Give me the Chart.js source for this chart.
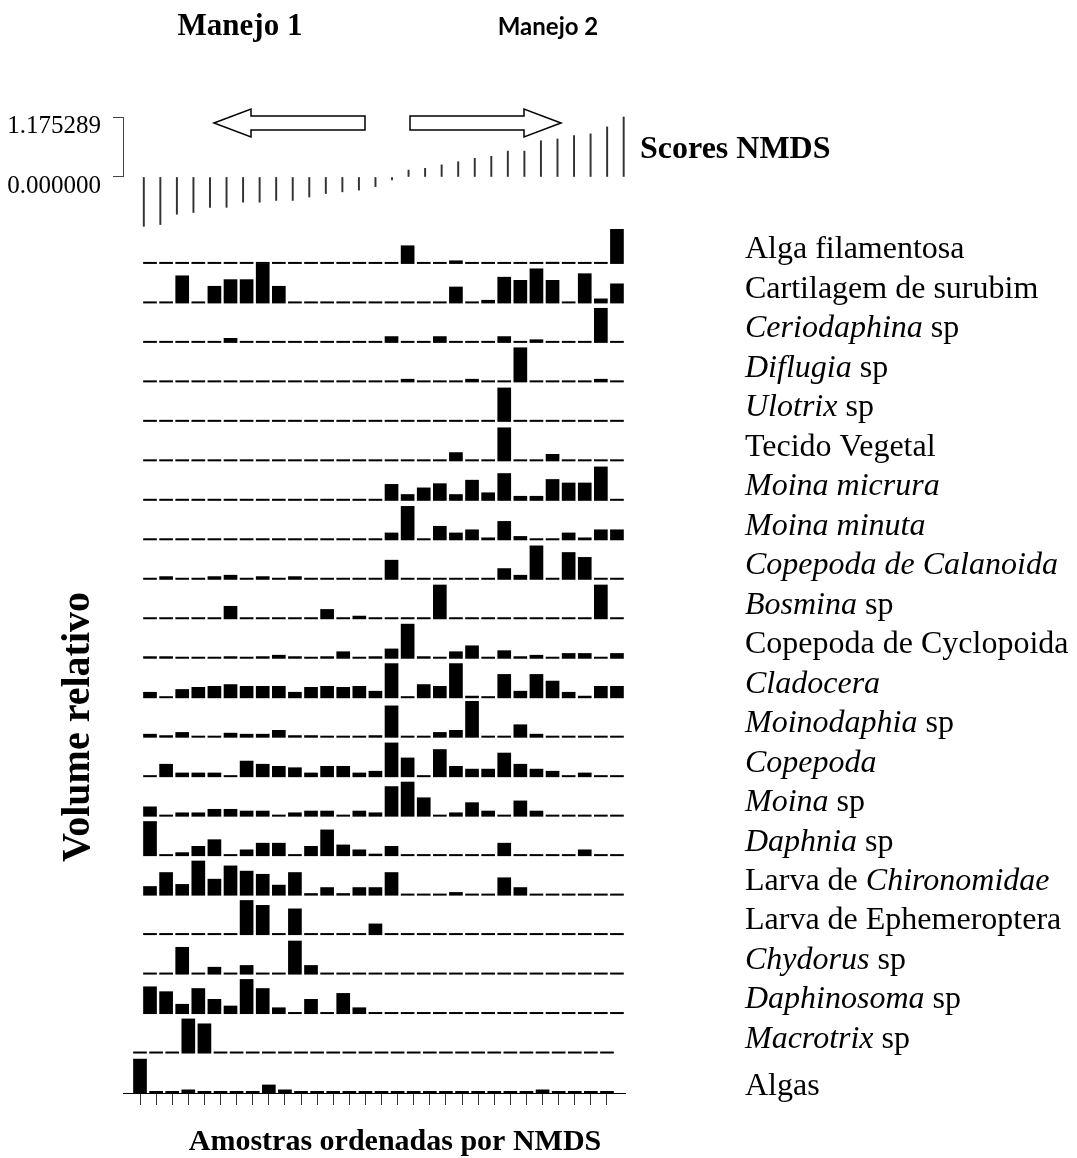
<!DOCTYPE html>
<html lang="pt">
<head>
  <meta charset="UTF-8">
  <title>Scores NMDS - volume relativo dos itens</title>
  <script src="https://cdn.jsdelivr.net/npm/chart.js"></script>
  <style>
    html, body { margin: 0; padding: 0; background: #fff; }
    #wrap { position: relative; width: 1077px; height: 1158px; }
  </style>
</head>
<body>
  <div id="wrap"><canvas id="nmdsChart"></canvas></div>

  <script>
    // Amostras ordenadas pelo escore NMDS
    const samples = [1, 2, 3, 4, 5, 6, 7, 8, 9, 10, 11, 12, 13, 14, 15,
                     16, 17, 18, 19, 20, 21, 22, 23, 24, 25, 26, 27, 28, 29, 30];

    const nmdsScores = [-0.967, -0.933, -0.730, -0.696, -0.595, -0.595, -0.494, -0.494, -0.460, -0.460,
                        -0.392, -0.325, -0.291, -0.257, -0.189, -0.060, 0.135, 0.169, 0.237, 0.298,
                        0.365, 0.406, 0.507, 0.507, 0.710, 0.744, 0.811, 0.845, 0.981, 1.175289];
    const nmdsTicks = [0, 1.175289];

    // Volume relativo de cada item (10 = maior valor da linha)
    const algaFilamentosa = [0, 0, 0, 0, 0, 0, 0, 0, 0, 0, 0, 0, 0, 0, 0, 0, 5.3, 0, 0, 1.0, 0, 0, 0, 0, 0, 0.6, 0, 0, 0, 10];
    const cartilagem      = [0, 0, 8.0, 0, 5.0, 6.9, 6.9, 11.4, 5.0, 0, 0, 0, 0, 0, 0, 0, 0, 0, 0, 4.8, 0, 1.0, 7.6, 6.7, 10, 6.7, 0, 8.6, 1.4, 5.7];
    const ceriodaphina    = [0.4, 0, 0, 0, 0, 1.4, 0, 0, 0, 0, 0, 0, 0, 0, 0, 1.9, 0, 0, 1.9, 0, 0, 0, 1.9, 0, 1.0, 0, 0, 0, 10, 0];
    const diflugia        = [0, 0, 0, 0, 0, 0, 0, 0, 0, 0, 0, 0, 0, 0, 0, 0, 1.0, 0, 0, 0, 1.0, 0, 0, 10, 0, 0, 0, 0, 1.0, 0.5];
    const ulotrix         = [0, 0, 0, 0, 0, 0, 0, 0, 0, 0, 0, 0, 0, 0, 0, 0, 0, 0, 0, 0, 0, 0, 9.8, 0, 0, 0, 0, 0, 0, 0];
    const tecidoVegetal   = [0, 0, 0, 0, 0, 0, 0, 0, 0, 0, 0, 0, 0, 0, 0, 0, 0, 0, 0, 2.6, 0, 0, 9.7, 0, 0, 2.1, 0, 0, 0, 0];
    const moinaMicrura    = [0, 0, 0, 0, 0, 0, 0.5, 0.5, 0.5, 0, 0, 0, 0.5, 0.5, 0, 4.8, 1.9, 3.8, 5.0, 1.9, 6.0, 2.4, 7.9, 1.4, 1.4, 6.2, 5.2, 5.2, 9.8, 0];
    const moinaMinuta     = [0, 0, 0, 0, 0, 0, 0, 0, 0, 0, 0, 0, 0, 0, 0, 2.2, 9.8, 0, 4.1, 2.2, 3.1, 0.8, 5.5, 1.2, 0, 0.3, 2.2, 0.8, 3.1, 3.1];
    const calanoida       = [0.3, 1.0, 0, 0, 1.0, 1.4, 0, 1.0, 0, 1.0, 0, 0.3, 0, 0.3, 0.3, 5.7, 0, 0, 0, 0, 0, 0, 3.3, 1.4, 9.8, 0, 7.9, 6.5, 0, 0];
    const bosmina         = [0, 0, 0.5, 0, 0, 3.8, 0.5, 0, 0, 0, 0, 2.9, 0, 1.0, 0, 0, 0, 0, 9.9, 0, 0, 0, 0, 0, 0, 0, 0, 0, 9.9, 0];
    const cyclopoida      = [0.7, 0.7, 0, 0, 0, 0.7, 0, 0.7, 1.1, 0.7, 0, 0.7, 2.1, 0, 0.7, 2.9, 10, 0.7, 0, 2.1, 3.8, 0, 2.4, 0.7, 1.1, 0, 1.6, 1.6, 0, 1.6];
    const cladocera       = [1.8, 0, 2.6, 3.2, 3.5, 4.0, 3.5, 3.5, 3.5, 1.8, 3.2, 3.5, 3.2, 3.5, 2.1, 10, 0, 4.0, 3.5, 10, 0.7, 0, 6.9, 2.1, 6.9, 5.0, 1.8, 0.7, 3.5, 3.5];
    const moinodaphia     = [1.1, 0.7, 1.6, 0, 0, 1.4, 1.1, 1.1, 2.2, 0.7, 0.7, 0, 0, 0, 0.7, 9.2, 0, 0, 1.6, 2.2, 10.5, 0, 0, 3.8, 1.1, 0, 0, 0, 0, 0];
    const copepoda        = [0, 3.8, 1.3, 1.3, 1.3, 0, 4.7, 3.8, 3.2, 2.8, 1.3, 3.2, 3.2, 1.3, 1.8, 9.9, 5.6, 0, 8.0, 3.2, 2.4, 2.4, 7.0, 3.8, 2.4, 1.8, 0.5, 1.3, 0, 0];
    const moinaSp         = [2.9, 0, 1.2, 1.2, 2.2, 2.2, 1.7, 1.7, 0, 1.2, 1.7, 1.7, 0, 1.7, 1.2, 8.7, 10, 5.5, 0, 1.2, 4.1, 1.7, 0, 4.6, 1.7, 0, 0, 0, 0, 0];
    const daphnia         = [10, 0, 1.1, 2.9, 4.8, 0, 1.9, 3.8, 3.8, 0, 2.9, 7.6, 3.3, 1.9, 0.7, 2.9, 0, 0, 0, 0, 0, 0, 3.8, 0, 0, 0, 0, 1.9, 0, 0];
    const chironomidae    = [2.7, 6.7, 3.3, 10, 4.8, 8.6, 7.1, 6.2, 3.1, 6.7, 0.7, 2.4, 0.7, 2.4, 2.4, 6.7, 0, 0, 0, 1.0, 0, 0, 5.2, 2.4, 0, 0, 0, 0, 0, 0];
    const ephemeroptera   = [0, 0, 0, 0, 0, 0, 10, 8.6, 0, 7.6, 0, 0, 0, 0, 3.3, 0, 0, 0, 0, 0, 0, 0, 0, 0, 0, 0, 0, 0, 0, 0];
    const chydorus        = [0, 0, 7.9, 0, 2.2, 0, 2.7, 0, 0, 9.7, 2.7, 0, 0, 0, 0, 0, 0, 0, 0, 0, 0, 0, 0, 0, 0, 0, 0, 0, 0, 0];
    const daphinosoma     = [7.9, 6.5, 2.9, 7.4, 4.3, 2.4, 10, 7.4, 1.9, 0, 4.3, 0.5, 6.0, 1.9, 0, 0, 0, 0, 0, 0, 0, 0, 0, 0, 0, 0, 0, 0, 0, 0];
    const macrotrix       = [0, 0, 0, 10, 8.6, 0, 0, 0, 0, 0, 0, 0, 0, 0, 0, 0, 0, 0, 0, 0, 0, 0, 0, 0, 0, 0, 0, 0, 0, 0];
    const algas           = [9.8, 0, 0, 1.0, 0, 0, 0, 0, 2.4, 1.0, 0, 0, 0, 0, 0, 0, 0, 0, 0, 0, 0, 0, 0, 0, 0, 1.0, 0, 0, 0, 0];

    // *texto* = itálico
    const rowNames = ['Alga filamentosa', 'Cartilagem de surubim', '*Ceriodaphina* sp', '*Diflugia* sp',
                      '*Ulotrix* sp', 'Tecido Vegetal', '*Moina micrura*', '*Moina minuta*',
                      '*Copepoda de Calanoida*', '*Bosmina* sp', 'Copepoda de Cyclopoida', '*Cladocera*',
                      '*Moinodaphia* sp', '*Copepoda*', '*Moina* sp', '*Daphnia* sp',
                      'Larva de *Chironomidae*', 'Larva de Ephemeroptera', '*Chydorus* sp', '*Daphinosoma* sp',
                      '*Macrotrix* sp', 'Algas'];
    const rowValues = [algaFilamentosa, cartilagem, ceriodaphina, diflugia, ulotrix, tecidoVegetal,
                       moinaMicrura, moinaMinuta, calanoida, bosmina, cyclopoida, cladocera,
                       moinodaphia, copepoda, moinaSp, daphnia, chironomidae, ephemeroptera,
                       chydorus, daphinosoma, macrotrix, algas];

    // the last two strips sit a bit further left in the original figure
    const shiftedRows = [20, 21];
    const ROW_MAX = 11.3;
    const serif = 'Liberation Serif, Times New Roman, serif';

    const datasets = [{
      data: samples.map((s, i) => ({ x: s, y: nmdsScores[i] })),
      xAxisID: 'xn', yAxisID: 'yn',
      backgroundColor: '#333', barThickness: 1.3, minBarLength: 0
    }];
    rowValues.forEach((vals, k) => {
      datasets.push({
        data: samples.map((s, i) => ({ x: s, y: vals[i] })),
        xAxisID: shiftedRows.includes(k) ? 'xs' : 'x',
        yAxisID: 'r' + k,
        backgroundColor: '#000',
        minBarLength: 2,
        barPercentage: 0.85,
        categoryPercentage: 1
      });
    });

    const hiddenX = (min, max) => ({
      type: 'linear', axis: 'x', position: 'bottom', display: false,
      offset: false, grid: { offset: false }, min, max
    });

    const scales = {
      x:  hiddenX(-0.677, 30.5),
      xn: hiddenX(-0.257, 30.08),
      xs: {
        type: 'linear', axis: 'x', position: 'bottom', offset: false, min: -0.056, max: 31.12,
        afterBuildTicks: s => { s.ticks = samples.map(v => ({ value: v })); },
        ticks: { display: false, autoSkip: false },
        grid: { offset: false, drawOnChartArea: false, drawTicks: true, tickLength: 12, color: '#333' },
        border: { display: true, color: '#000', width: 1 }
      },
      yn: {
        type: 'linear', axis: 'y', position: 'left', stack: 'rows', stackWeight: 60, weight: 40,
        min: 0, max: 1.175289,
        afterBuildTicks: s => { s.ticks = nmdsTicks.map(v => ({ value: v })); },
        afterFit: s => { s.width = 123; },
        ticks: {
          autoSkip: false,
          callback: v => Number(v).toFixed(6),
          font: { family: serif, size: 25 }, color: '#000', padding: 12, labelOffset: 9
        },
        grid: { drawOnChartArea: false, tickLength: 10, color: '#444' },
        border: { display: true, color: '#444', width: 1 }
      },
      gap: { type: 'linear', axis: 'y', position: 'left', display: false, stack: 'rows', stackWeight: 47.5, weight: 39 }
    };
    rowNames.forEach((n, k) => {
      scales['r' + k] = {
        type: 'linear', axis: 'y', position: 'left', display: false,
        stack: 'rows', stackWeight: 39.5, weight: 38 - k,
        min: 0, max: ROW_MAX
      };
    });

    function drawMixed(ctx, text, x, y, size) {
      text.split('*').forEach((part, j) => {
        if (!part) return;
        ctx.font = (j % 2 ? 'italic ' : '') + size + 'px ' + serif;
        ctx.fillText(part, x, y);
        x += ctx.measureText(part).width;
      });
    }

    const decorations = {
      id: 'decorations',
      beforeDraw(chart) {
        const ctx = chart.ctx;
        ctx.save();
        ctx.fillStyle = '#fff';
        ctx.fillRect(0, 0, chart.width, chart.height);
        ctx.restore();
      },
      afterDraw(chart) {
        const ctx = chart.ctx;
        ctx.save();
        ctx.fillStyle = '#000';
        ctx.textBaseline = 'middle';

        // species names
        ctx.textAlign = 'left';
        rowNames.forEach((name, k) => {
          const lift = k === rowNames.length - 1 ? 6 : 14;
          const y = chart.scales['r' + k].getPixelForValue(0) - lift;
          drawMixed(ctx, name, 745, y, 32);
        });

        ctx.font = 'bold 32px ' + serif;
        ctx.fillText('Scores NMDS', 640, 150);

        ctx.textAlign = 'center';
        ctx.font = 'bold 31px ' + serif;
        ctx.fillText('Manejo 1', 240, 27);
        ctx.font = 'bold 24px Lato, sans-serif';
        ctx.fillText('Manejo 2', 548, 27);
        ctx.font = 'bold 30px ' + serif;
        ctx.fillText('Amostras ordenadas por NMDS', 395, 1142);

        ctx.save();
        ctx.translate(79, 727);
        ctx.rotate(-Math.PI / 2);
        ctx.font = 'bold 40px ' + serif;
        ctx.fillText('Volume relativo', 0, 0);
        ctx.restore();

        // outlined arrows
        ctx.fillStyle = '#fff';
        ctx.strokeStyle = '#000';
        ctx.lineWidth = 1.5;
        const arrow = (tip, back, tail) => {
          ctx.beginPath();
          ctx.moveTo(tip, 123);
          ctx.lineTo(back, 109);
          ctx.lineTo(back, 116);
          ctx.lineTo(tail, 116);
          ctx.lineTo(tail, 130);
          ctx.lineTo(back, 130);
          ctx.lineTo(back, 137);
          ctx.closePath();
          ctx.fill();
          ctx.stroke();
        };
        arrow(214, 251, 365);
        arrow(561, 524, 410);
        ctx.restore();
      }
    };

    new Chart(document.getElementById('nmdsChart'), {
      type: 'bar',
      data: { datasets },
      plugins: [decorations],
      options: {
        responsive: true,
        maintainAspectRatio: false,
        animation: false,
        layout: { padding: { top: 117, bottom: 53, left: 0, right: 452 } },
        datasets: { bar: { grouped: false, clip: false } },
        plugins: { legend: { display: false }, tooltip: { enabled: false } },
        scales
      }
    });
  </script>
</body>
</html>
